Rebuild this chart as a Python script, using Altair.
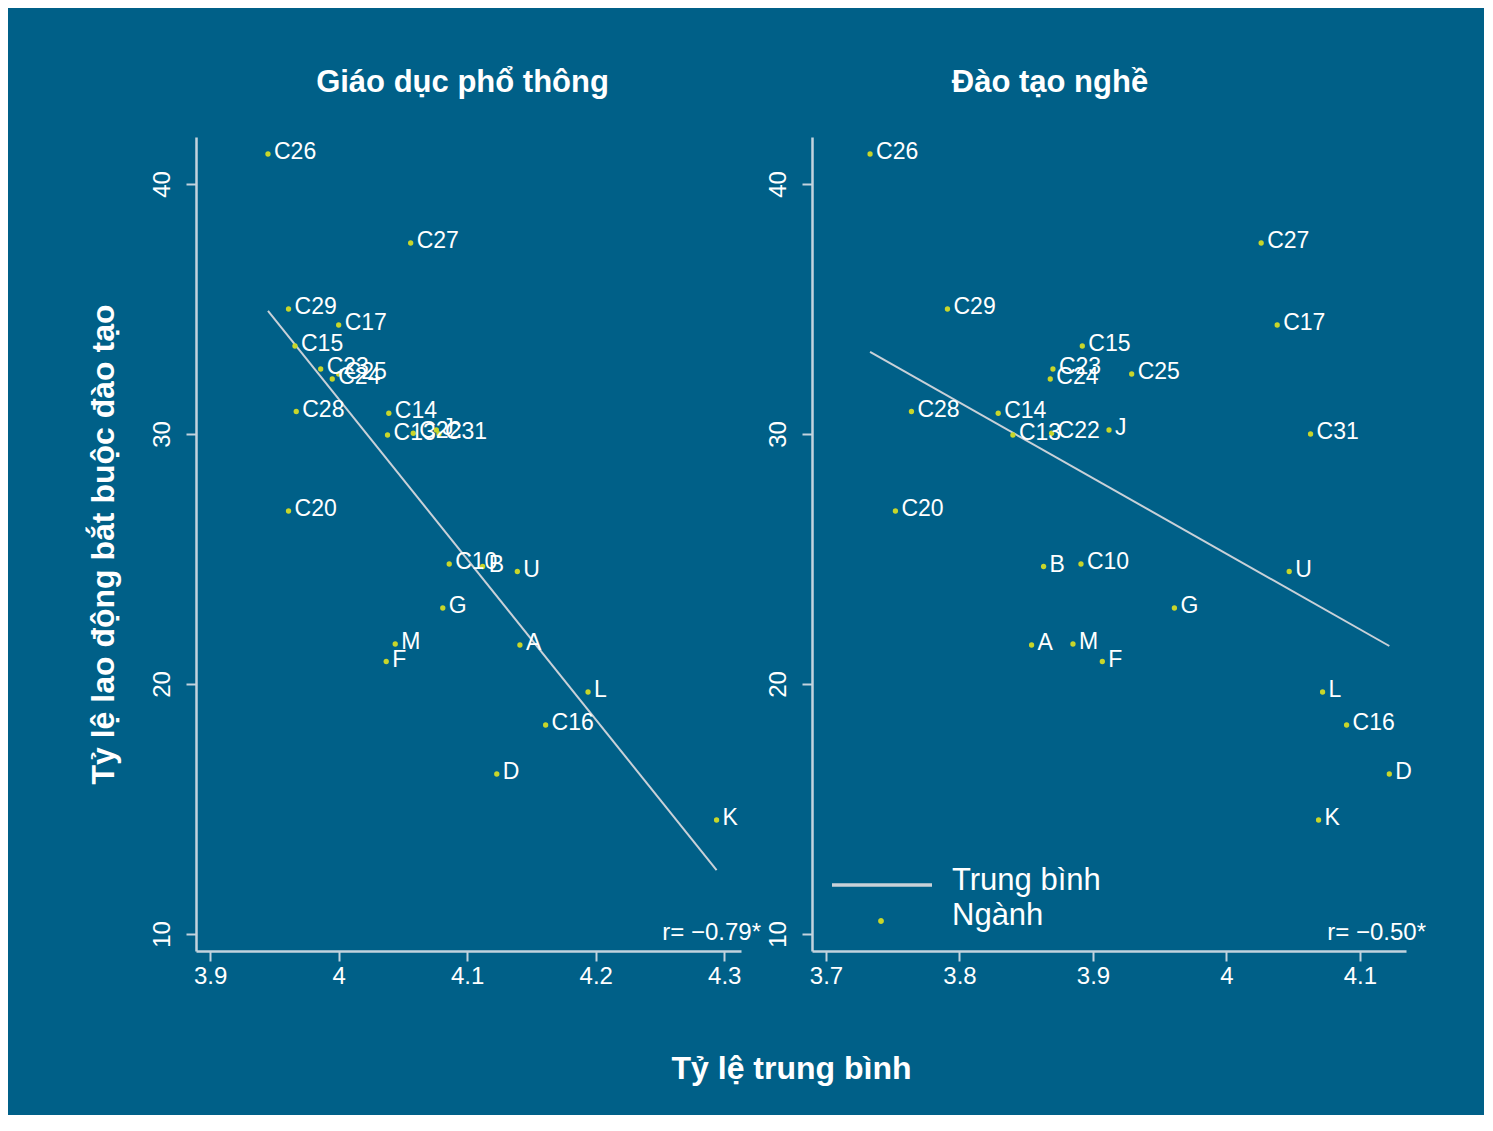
import altair as alt
import pandas as pd

labels = ["C26", "C27", "C29", "C17", "C15", "C23", "C25", "C24", "C28", "C14",
          "C13", "C22", "J", "C31", "C20", "C10", "B", "U", "G", "M", "F", "A",
          "L", "C16", "D", "K"]
y_vals = [41.2, 37.64, 35.0, 34.36, 33.52, 32.6, 32.4, 32.2, 30.9, 30.83,
          29.96, 30.03, 30.16, 30.0, 26.92, 24.8, 24.7, 24.5, 23.04, 21.6, 20.9, 21.56,
          19.68, 18.36, 16.4, 14.56]
x_general = [3.945, 4.056, 3.961, 4.000, 3.966, 3.986, 4.000, 3.995, 3.967, 4.039,
             4.038, 4.058, 4.076, 4.078, 3.961, 4.086, 4.112, 4.139, 4.081, 4.044, 4.037, 4.141,
             4.194, 4.161, 4.123, 4.294]
x_vocational = [3.733, 4.026, 3.791, 4.038, 3.892, 3.870, 3.929, 3.868, 3.764, 3.829,
                3.840, 3.869, 3.912, 4.063, 3.752, 3.891, 3.863, 4.047, 3.961, 3.885, 3.907, 3.854,
                4.072, 4.090, 4.122, 4.069]

panel_titles = ["Giáo dục phổ thông", "Đào tạo nghề"]
r_texts = ["r= \u22120.79*", "r= \u22120.50*"]
legend_labels = ["Trung bình", "Ngành"]
y_title = "Tỷ lệ lao động bắt buộc đào tạo"
x_title = "Tỷ lệ trung bình"

x_ticks_left = [3.9, 4.0, 4.1, 4.2, 4.3]
x_ticks_right = [3.7, 3.8, 3.9, 4.0, 4.1]
y_ticks = [10, 20, 30, 40]

BG = "#006088"
AXIS = "#c3d3de"
LINE = "#c9d1d8"
DOT = "#c8d62a"
TXT = "#ffffff"
FONT = "Liberation Sans"

df = pd.DataFrame({"label": labels, "y": y_vals, "xg": x_general, "xv": x_vocational})

H = 814


def panel(xcol, domain, ticks, width, title, dx, r_text, show_ytitle, legend):
    base = alt.Chart(df)
    yaxis = alt.Axis(values=y_ticks, labelAngle=-90, grid=False, tickSize=10,
                     labelPadding=12, titlePadding=30, domainWidth=2.5, tickWidth=2,
                     domainColor=AXIS, tickColor=AXIS, labelColor=TXT, titleColor=TXT,
                     labelFontSize=24, labelFont=FONT, titleFont=FONT, titleFontSize=32,
                     titleFontWeight="bold")
    ytitle = y_title if show_ytitle else None
    y = alt.Y("y:Q", scale=alt.Scale(domain=[9.32, 41.88], nice=False, zero=False),
              axis=yaxis, title=ytitle)
    xaxis = alt.Axis(values=ticks, format=".1~f", grid=False, tickSize=10,
                     labelPadding=3, domainWidth=2.5, tickWidth=2,
                     domainColor=AXIS, tickColor=AXIS, labelColor=TXT,
                     labelFontSize=24, labelFont=FONT, labelFlush=False)
    x = alt.X(f"{xcol}:Q", scale=alt.Scale(domain=domain, nice=False, zero=False),
              axis=xaxis, title=None)

    pts = base.mark_circle(size=28, color=DOT, opacity=1).encode(x=x, y=y)
    txt = base.mark_text(align="left", baseline="middle", dx=6, dy=-2, font=FONT,
                         fontSize=23, color=TXT).encode(x=x, y=y, text="label:N")
    reg = base.transform_regression(xcol, "y").mark_line(color=LINE, strokeWidth=2).encode(x=x, y=y)
    rlab = alt.Chart(pd.DataFrame({"t": [r_text]})).mark_text(
        align="right", baseline="middle", font=FONT, fontSize=24, color=TXT
    ).encode(x=alt.value(width + 20), y=alt.value(796), text="t:N")
    layers = [reg, pts, txt, rlab]
    if legend:
        leg = pd.DataFrame({"t": legend_labels})
        ll = alt.Chart(leg).mark_rule(color=LINE, strokeWidth=3).encode(
            x=alt.value(20), x2=alt.value(120), y=alt.value(748))
        ld = alt.Chart(leg).mark_circle(size=28, color=DOT, opacity=1).encode(
            x=alt.value(69), y=alt.value(784))
        lt1 = alt.Chart(pd.DataFrame({"t": [legend_labels[0]]})).mark_text(
            align="left", baseline="middle", font=FONT, fontSize=31, color=TXT
        ).encode(x=alt.value(140), y=alt.value(744), text="t:N")
        lt2 = alt.Chart(pd.DataFrame({"t": [legend_labels[1]]})).mark_text(
            align="left", baseline="middle", font=FONT, fontSize=31, color=TXT
        ).encode(x=alt.value(140), y=alt.value(779), text="t:N")
        layers += [ll, ld, lt1, lt2]
    return alt.layer(*layers).properties(
        width=width, height=H,
        title=alt.TitleParams(title, font=FONT, fontSize=31, fontWeight="bold",
                              color=TXT, offset=38, dx=dx, anchor="middle"))


left = panel("xg", [3.889, 4.313], x_ticks_left, 545, panel_titles[0], -6, r_texts[0], True, False)
right = panel("xv", [3.6895, 4.1345], x_ticks_right, 594, panel_titles[1], -59, r_texts[1], False, True)

chart = alt.hconcat(left, right, spacing=71, bounds="flush").properties(
    background=BG,
    padding={"left": 79, "top": 59, "right": 58, "bottom": 30},
    title=alt.TitleParams(x_title, orient="bottom", anchor="middle", font=FONT,
                          fontSize=32, fontWeight="bold", color=TXT, offset=66, dx=35),
).configure_view(stroke=None)

chart.save("out.html", embed_options={"renderer": "svg", "actions": False})
